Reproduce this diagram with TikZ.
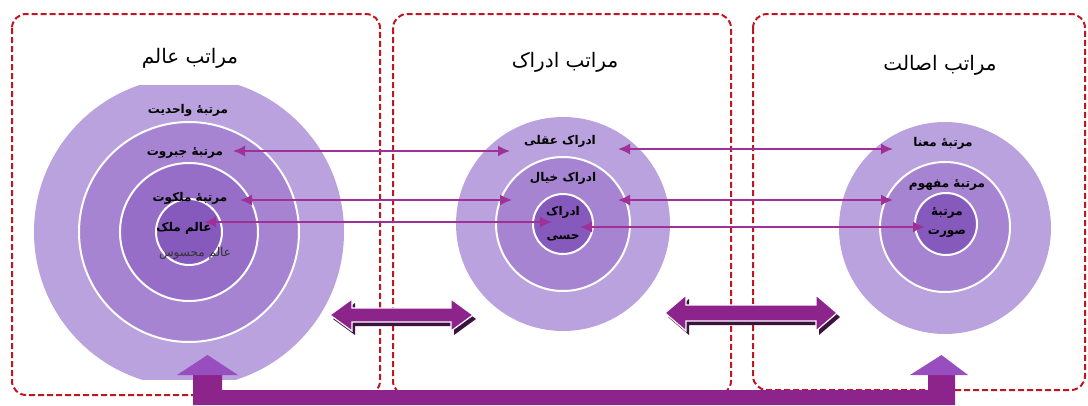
\documentclass[tikz,border=0pt]{standalone}
\usepackage{fontspec}
\usetikzlibrary{arrows.meta}
\newfontfamily\farsi[Script=Arabic]{DejaVu Sans}
\TeXXeTstate=1
\newcommand{\fatext}[1]{{\farsi\beginR #1\endR}}
\definecolor{boxred}{RGB}{192,22,34}
\definecolor{ringA}{RGB}{186,162,222}
\definecolor{ringB}{RGB}{166,132,210}
\definecolor{ringC}{RGB}{150,110,200}
\definecolor{ringD}{RGB}{134,90,188}
\definecolor{linkpurple}{RGB}{158,48,152}
\definecolor{blockpurple}{RGB}{140,36,140}
\definecolor{blockdark}{RGB}{60,18,64}
\definecolor{headpurple}{RGB}{152,78,190}

\begin{document}
\begin{tikzpicture}[x=1pt,y=-1pt]
      \tikzstyle{every node}+=[inner sep=0pt]
      \tikzstyle{realm}=[draw=boxred, line width=2pt, dash pattern=on 6pt off 3pt, rounded corners=14pt]
      \tikzstyle{ring}=[draw=white, line width=2pt]
      \tikzstyle{heading}=[font=\fontsize{20}{24}\selectfont, text=black]
      \tikzstyle{rank}=[font=\bfseries\fontsize{12}{15}\selectfont, text=black, align=center]
      \tikzstyle{link}=[linkpurple, line width=1.8pt, {Latex[length=12pt,width=11pt]}-{Latex[length=12pt,width=11pt]}]
      \tikzstyle{block}=[fill=blockpurple, draw=white, line width=1.2pt]
      \tikzstyle{blockshadow}=[fill=blockdark]
      \useasboundingbox[fill=white] (0,0) rectangle (1088,405);
      \draw [realm] (12,14) rectangle (380,395);
      \draw [realm] (393,14) rectangle (731,395);
      \draw [realm] (753,14) rectangle (1085,390);
      \begin{scope}
        \clip (0,85) rectangle (400,379);
        \fill [ringA] (189,232) circle (155);
      \end{scope}
      \draw [ring, fill=ringB] (189,232) circle (110);
      \draw [ring, fill=ringC] (189,232) circle (69);
      \draw [ring, fill=ringD] (189,232) circle (33);
      \fill [ringA] (563,224) circle (107);
      \draw [ring, fill=ringB] (563,224) circle (67);
      \draw [ring, fill=ringD] (563,224) circle (30);
      \fill [ringA] (945,228) circle (106);
      \draw [ring, fill=ringB] (945,227) circle (65);
      \draw [ring, fill=ringD] (946,224) circle (31);
      \draw (190,58) node [heading] (alam) {\fatext{مراتب عالم}};
      \draw (565,62) node [heading] (edrak) {\fatext{مراتب ادراک}};
      \draw (940,65) node [heading] (esalat) {\fatext{مراتب اصالت}};
      \draw (188,110) node [rank] (vahediat) {\fatext{مرتبهٔ واحدیت}};
      \draw (185,153) node [rank] (jabarut) {\fatext{مرتبهٔ جبروت}};
      \draw (190,198) node [rank] (malakut) {\fatext{مرتبهٔ ملکوت}};
      \draw (184,228) node [rank] (molk) {\fatext{عالم ملک}};
      \draw (195,253) node [rank, font=\fontsize{12}{14}\selectfont, text=black!80] (mahsus) {\fatext{عالم محسوس}};
      \draw (560,141) node [rank] (aqli) {\fatext{ادراک عقلی}};
      \draw (563,178) node [rank] (khiyal) {\fatext{ادراک خیال}};
      \draw (563,212) node [rank] (hessiA) {\fatext{ادراک}};
      \draw (563,238) node [rank] (hessiB) {\fatext{حسی}};
      \draw (943,143) node [rank] (mana) {\fatext{مرتبهٔ معنا}};
      \draw (947,185) node [rank] (mafhum) {\fatext{مرتبهٔ مفهوم}};
      \draw (947,213) node [rank] (suratA) {\fatext{مرتبهٔ}};
      \draw (947,233) node [rank] (suratB) {\fatext{صورت}};
      \coordinate (jL) at (233,151);
      \coordinate (jM) at (510,151);
      \coordinate (aM) at (618,149);
      \coordinate (aR) at (893,149);
      \coordinate (mL) at (240,200);
      \coordinate (mM) at (512,200);
      \coordinate (fM) at (618,200);
      \coordinate (fR) at (893,200);
      \coordinate (kL) at (204,222);
      \coordinate (kM) at (552,222);
      \coordinate (sM) at (580,227);
      \coordinate (sR) at (925,227);
      \draw [link] (jL) -- (jM);
      \draw [link] (aM) -- (aR);
      \draw [link] (mL) -- (mM);
      \draw [link] (fM) -- (fR);
      \draw [link] (kL) -- (kM);
      \draw [link] (sM) -- (sR);
      \fill [blockshadow, shift={(3,4)}] (330,315) -- (352,299) -- (352,308) -- (451,308) -- (451,299) -- (473,315) -- (451,331) -- (451,322) -- (352,322) -- (352,331) -- cycle;
      \draw [block] (330,315) -- (352,299) -- (352,308) -- (451,308) -- (451,299) -- (473,315) -- (451,331) -- (451,322) -- (352,322) -- (352,331) -- cycle;
      \fill [blockshadow, shift={(3,4)}] (665,313) -- (686,295) -- (686,305) -- (816,305) -- (816,295) -- (837,313) -- (816,331) -- (816,321) -- (686,321) -- (686,331) -- cycle;
      \draw [block] (665,313) -- (686,295) -- (686,305) -- (816,305) -- (816,295) -- (837,313) -- (816,331) -- (816,321) -- (686,321) -- (686,331) -- cycle;
      \fill [blockpurple] (193,405) -- (193,374) -- (222,374) -- (222,390) -- (928,390) -- (928,374) -- (955,374) -- (955,405) -- cycle;
      \fill [headpurple] (177,375) -- (207.5,355) -- (238,375) -- cycle;
      \fill [headpurple] (910,375) -- (941.5,355) -- (968,375) -- cycle;
\end{tikzpicture}
\end{document}
